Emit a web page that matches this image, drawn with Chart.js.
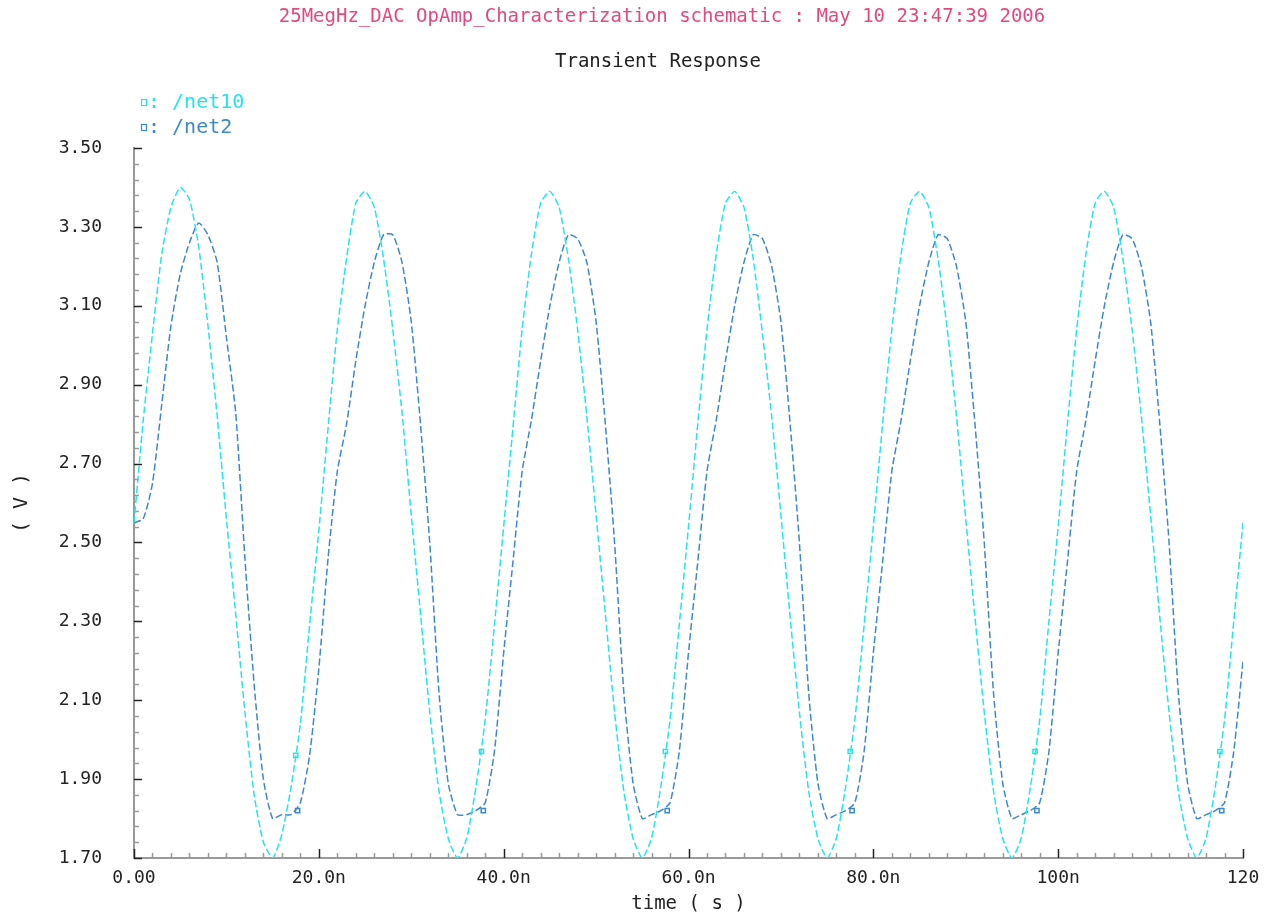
<!DOCTYPE html>
<html>
<head>
<meta charset="utf-8">
<title>Transient Response</title>
<script src="https://cdn.jsdelivr.net/npm/chart.js@4.4.1/dist/chart.umd.min.js"></script>
<style>
  html, body { margin: 0; padding: 0; background: #fff; }
  #chart { display: block; }
</style>
</head>
<body>
<canvas id="chart" width="1270" height="921"></canvas>
<script>
const mainTitle = '25MegHz_DAC OpAmp_Characterization schematic : May 10 23:47:39 2006';
const subTitle = 'Transient Response';
const seriesNames = ['/net10', '/net2'];
const seriesColors = ['#22e4f0', '#3c88cc'];

// time axis in ns, one sample per ns
const stepNs = 1;
const sampleCount = 121;

const net10 = [
  2.55, 2.81, 3.03, 3.23, 3.35, 3.40, 3.37, 3.25, 3.05, 2.82, 2.56, 2.32, 2.07, 1.86, 1.74, 1.70, 1.76, 1.88, 2.04, 2.29,
  2.53, 2.79, 3.04, 3.22, 3.36, 3.39, 3.35, 3.22, 3.04, 2.83, 2.57, 2.32, 2.07, 1.87, 1.75, 1.70, 1.75, 1.88, 2.05, 2.29,
  2.54, 2.79, 3.04, 3.23, 3.36, 3.39, 3.35, 3.22, 3.04, 2.82, 2.57, 2.32, 2.07, 1.87, 1.75, 1.70, 1.75, 1.88, 2.05, 2.29,
  2.54, 2.80, 3.04, 3.23, 3.36, 3.39, 3.35, 3.22, 3.03, 2.82, 2.57, 2.31, 2.07, 1.87, 1.75, 1.70, 1.75, 1.88, 2.05, 2.29,
  2.54, 2.80, 3.04, 3.23, 3.36, 3.39, 3.35, 3.22, 3.04, 2.82, 2.56, 2.31, 2.07, 1.87, 1.75, 1.70, 1.75, 1.88, 2.05, 2.30,
  2.54, 2.80, 3.04, 3.23, 3.36, 3.39, 3.35, 3.22, 3.04, 2.82, 2.57, 2.31, 2.07, 1.87, 1.75, 1.70, 1.75, 1.88, 2.05, 2.30,
  2.55
];

const net2 = [
  2.55, 2.56, 2.65, 2.85, 3.05, 3.18, 3.26, 3.31, 3.28, 3.21, 3.02, 2.83, 2.46, 2.14, 1.90, 1.80, 1.81, 1.81, 1.84, 1.96,
  2.18, 2.46, 2.68, 2.80, 2.96, 3.10, 3.21, 3.28, 3.28, 3.21, 3.06, 2.80, 2.50, 2.12, 1.89, 1.81, 1.81, 1.82, 1.84, 1.97,
  2.22, 2.45, 2.68, 2.81, 2.96, 3.10, 3.21, 3.28, 3.27, 3.21, 3.06, 2.80, 2.50, 2.12, 1.89, 1.80, 1.81, 1.82, 1.84, 1.97,
  2.22, 2.45, 2.68, 2.81, 2.96, 3.10, 3.21, 3.28, 3.27, 3.20, 3.06, 2.80, 2.50, 2.12, 1.89, 1.80, 1.81, 1.82, 1.84, 1.97,
  2.22, 2.45, 2.68, 2.81, 2.96, 3.10, 3.21, 3.28, 3.27, 3.20, 3.06, 2.80, 2.50, 2.12, 1.89, 1.80, 1.81, 1.82, 1.84, 1.97,
  2.22, 2.45, 2.68, 2.81, 2.96, 3.10, 3.21, 3.28, 3.27, 3.20, 3.06, 2.80, 2.50, 2.12, 1.89, 1.80, 1.81, 1.82, 1.84, 1.97,
  2.20
];

// waveform markers
const markerTimesNet10 = [17.5, 37.6, 57.5, 77.5, 97.5, 117.5];
const markerNet10 = [1.96, 1.97, 1.97, 1.97, 1.97, 1.97];
const markerTimesNet2 = [17.7, 37.8, 57.7, 77.7, 97.7, 117.7];
const markerNet2 = [1.82, 1.82, 1.82, 1.82, 1.82, 1.82];

const xMajorTicks = [0, 20, 40, 60, 80, 100, 120];
const xTickLabels = ['0.00', '20.0n', '40.0n', '60.0n', '80.0n', '100n', '120'];
const yMajorTicks = [1.70, 1.90, 2.10, 2.30, 2.50, 2.70, 2.90, 3.10, 3.30, 3.50];
const yTickLabels = ['1.70', '1.90', '2.10', '2.30', '2.50', '2.70', '2.90', '3.10', '3.30', '3.50'];

const timeNs = Array.from({ length: sampleCount }, (_, i) => i * stepNs);

function withMinor(majors, parts) {
  const out = [];
  for (let i = 0; i < majors.length - 1; i++) {
    for (let k = 0; k < parts; k++) {
      out.push({ value: majors[i] + (majors[i + 1] - majors[i]) * k / parts, isMain: k === 0, idx: i });
    }
  }
  out.push({ value: majors[majors.length - 1], isMain: true, idx: majors.length - 1 });
  return out;
}

const FONT = 'DejaVu Sans Mono';
Chart.defaults.font.family = FONT;
Chart.defaults.color = '#222';

// titles + legend, drawn Cadence style
const headerPlugin = {
  id: 'header',
  afterDraw(chart) {
    const ctx = chart.ctx;
    ctx.save();
    ctx.textBaseline = 'middle';
    ctx.textAlign = 'center';
    ctx.font = '19px ' + FONT;
    ctx.fillStyle = '#e4487f';
    ctx.fillText(mainTitle, 662, 17);
    ctx.fillStyle = '#222';
    ctx.fillText(subTitle, 658, 62);

    ctx.textAlign = 'left';
    ctx.font = '20px ' + FONT;
    chart.data.datasets.forEach((ds, i) => {
      if (!ds.inLegend) return;
      const y = 103 + i * 25;
      ctx.strokeStyle = ds.borderColor;
      ctx.lineWidth = 1.2;
      ctx.strokeRect(141.5, y - 3.5, 5, 6);
      ctx.fillStyle = ds.borderColor;
      ctx.fillText(': ' + ds.label, 148, y);
    });
    ctx.restore();
  }
};

// ticks pointing into the plot
const innerTicksPlugin = {
  id: 'innerTicks',
  beforeDatasetsDraw(chart) {
    const ctx = chart.ctx;
    const { x, y } = chart.scales;
    ctx.save();
    ctx.lineWidth = 1.5;
    y.ticks.forEach(t => {
      const py = Math.round(y.getPixelForValue(t.value)) + 0.5;
      ctx.strokeStyle = t.isMain ? '#222' : '#999';
      const len = t.isMain ? 8 : 5;
      ctx.beginPath();
      ctx.moveTo(x.left, py);
      ctx.lineTo(x.left + len, py);
      ctx.stroke();
    });
    x.ticks.forEach(t => {
      const px = Math.round(x.getPixelForValue(t.value)) + 0.5;
      ctx.strokeStyle = t.isMain ? '#222' : '#999';
      const len = t.isMain ? 9 : 5;
      ctx.beginPath();
      ctx.moveTo(px, y.bottom);
      ctx.lineTo(px, y.bottom - len);
      ctx.stroke();
    });
    ctx.restore();
  }
};

const lineStyle = {
  showLine: true,
  borderWidth: 1.5,
  borderDash: [7, 3],
  pointRadius: 0,
  tension: 0.2,
  fill: false
};

const markerStyle = {
  showLine: false,
  pointStyle: 'rect',
  pointRadius: 3,
  borderWidth: 1.5,
  backgroundColor: '#fff'
};

new Chart(document.getElementById('chart'), {
  type: 'scatter',
  data: {
    datasets: [
      {
        ...lineStyle,
        label: seriesNames[0],
        inLegend: true,
        borderColor: seriesColors[0],
        data: timeNs.map((t, i) => ({ x: t, y: net10[i] }))
      },
      {
        ...lineStyle,
        label: seriesNames[1],
        inLegend: true,
        borderColor: seriesColors[1],
        data: timeNs.map((t, i) => ({ x: t, y: net2[i] }))
      },
      {
        ...markerStyle,
        label: seriesNames[0] + ' marker',
        borderColor: seriesColors[0],
        data: markerTimesNet10.map((t, i) => ({ x: t, y: markerNet10[i] }))
      },
      {
        ...markerStyle,
        label: seriesNames[1] + ' marker',
        borderColor: seriesColors[1],
        data: markerTimesNet2.map((t, i) => ({ x: t, y: markerNet2[i] }))
      }
    ]
  },
  options: {
    responsive: false,
    animation: false,
    devicePixelRatio: 1,
    layout: { padding: { top: 148, right: 27, left: 0, bottom: 0 } },
    plugins: {
      legend: { display: false },
      tooltip: { enabled: false }
    },
    scales: {
      x: {
        type: 'linear',
        min: 0,
        max: 120,
        afterBuildTicks: scale => { scale.ticks = withMinor(xMajorTicks, 10); },
        afterFit: scale => { scale.height = 63; },
        grid: { display: false, drawTicks: false },
        border: { display: true, color: '#999', width: 2 },
        ticks: {
          autoSkip: false,
          maxRotation: 0,
          padding: 10,
          color: '#222',
          font: { size: 18 },
          callback: (v, i, ticks) => ticks[i].isMain ? xTickLabels[ticks[i].idx] : ''
        },
        title: {
          display: true,
          text: 'time ( s )',
          color: '#222',
          font: { size: 19 },
          padding: { top: 0, bottom: 6 }
        }
      },
      y: {
        min: 1.70,
        max: 3.50,
        afterBuildTicks: scale => { scale.ticks = withMinor(yMajorTicks, 5); },
        afterFit: scale => { scale.width = 134; },
        grid: { display: false, drawTicks: false },
        border: { display: true, color: '#999', width: 2 },
        ticks: {
          autoSkip: false,
          padding: 32,
          color: '#222',
          font: { size: 18 },
          callback: (v, i, ticks) => ticks[i].isMain ? yTickLabels[ticks[i].idx] : ''
        },
        title: {
          display: true,
          text: '( V )',
          color: '#222',
          font: { size: 20 },
          padding: { top: 10, bottom: 0 }
        }
      }
    }
  },
  plugins: [innerTicksPlugin, headerPlugin]
});
</script>
</body>
</html>
